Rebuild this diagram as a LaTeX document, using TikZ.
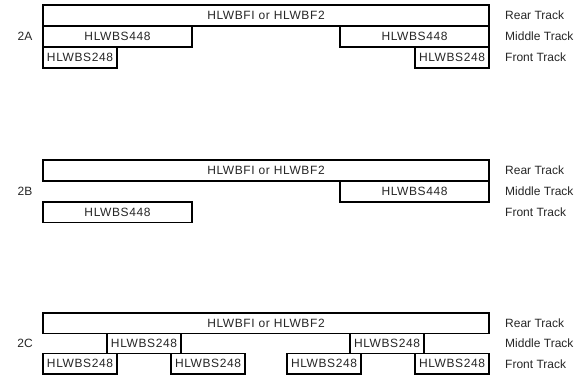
\documentclass[tikz,border=0pt]{standalone}
\usepackage{fontspec}
\setmainfont{Liberation Sans}
\newfontfamily\boxfont[LetterSpace=5]{Liberation Sans}
\tikzset{
  bar/.style={draw=black, line width=1.5pt, rectangle, anchor=north west,
    inner sep=0pt, outer sep=0pt, fill=white,
    font=\boxfont\fontsize{12}{14}\selectfont, text=black!85},
  tracklabel/.style={anchor=west, inner sep=0pt,
    font=\fontsize{12}{14}\selectfont, text=black!85},
  setlabel/.style={anchor=center, inner sep=0pt,
    font=\fontsize{12}{14}\selectfont, text=black!85}
}
\newcommand\barbox[6]{\node[bar, minimum width=#4pt, minimum height=#5pt] (#1) at (#2,#3) {#6};}
\begin{document}
\begin{tikzpicture}[x=1pt,y=-1pt]
\useasboundingbox (0,0) rectangle (583,375);
% ---- 2A ----
\barbox{arear}{43}{5}{446}{21}{HLWBFI or HLWBF2}
\barbox{amidl}{43}{26}{149}{21}{HLWBS448}
\barbox{amidr}{340}{26}{149}{21}{HLWBS448}
\barbox{afrol}{43}{47}{74}{21}{HLWBS248}
\barbox{afror}{415}{47}{74}{21}{HLWBS248}
\node[setlabel] (la) at (25,36.5) {2A};
\node[tracklabel] (ra) at (505,15.5) {Rear Track};
\node[tracklabel] (ma) at (505,36.5) {Middle Track};
\node[tracklabel] (fa) at (505,57.5) {Front Track};
% ---- 2B ----
\barbox{brear}{43}{160}{446}{21}{HLWBFI or HLWBF2}
\barbox{bmidr}{340}{181}{149}{21}{HLWBS448}
\barbox{bfrol}{43}{202}{149}{20.5}{HLWBS448}
\node[setlabel] (lb) at (25,191.5) {2B};
\node[tracklabel] (rb) at (505,170.5) {Rear Track};
\node[tracklabel] (mb) at (505,191.5) {Middle Track};
\node[tracklabel] (fb) at (505,212) {Front Track};
% ---- 2C ----
\barbox{crear}{43}{313}{446}{20.5}{HLWBFI or HLWBF2}
\barbox{cmida}{107}{333.5}{74}{20}{HLWBS248}
\barbox{cmidb}{350}{333.5}{74}{20}{HLWBS248}
\barbox{cfroa}{43}{353.5}{74}{20.5}{HLWBS248}
\barbox{cfrob}{171}{353.5}{74}{20.5}{HLWBS248}
\barbox{cfroc}{287}{353.5}{74}{20.5}{HLWBS248}
\barbox{cfrod}{415}{353.5}{74}{20.5}{HLWBS248}
\node[setlabel] (lc) at (25,343.5) {2C};
\node[tracklabel] (rc) at (505,323) {Rear Track};
\node[tracklabel] (mc) at (505,343.5) {Middle Track};
\node[tracklabel] (fc) at (505,364) {Front Track};
\end{tikzpicture}
\end{document}
